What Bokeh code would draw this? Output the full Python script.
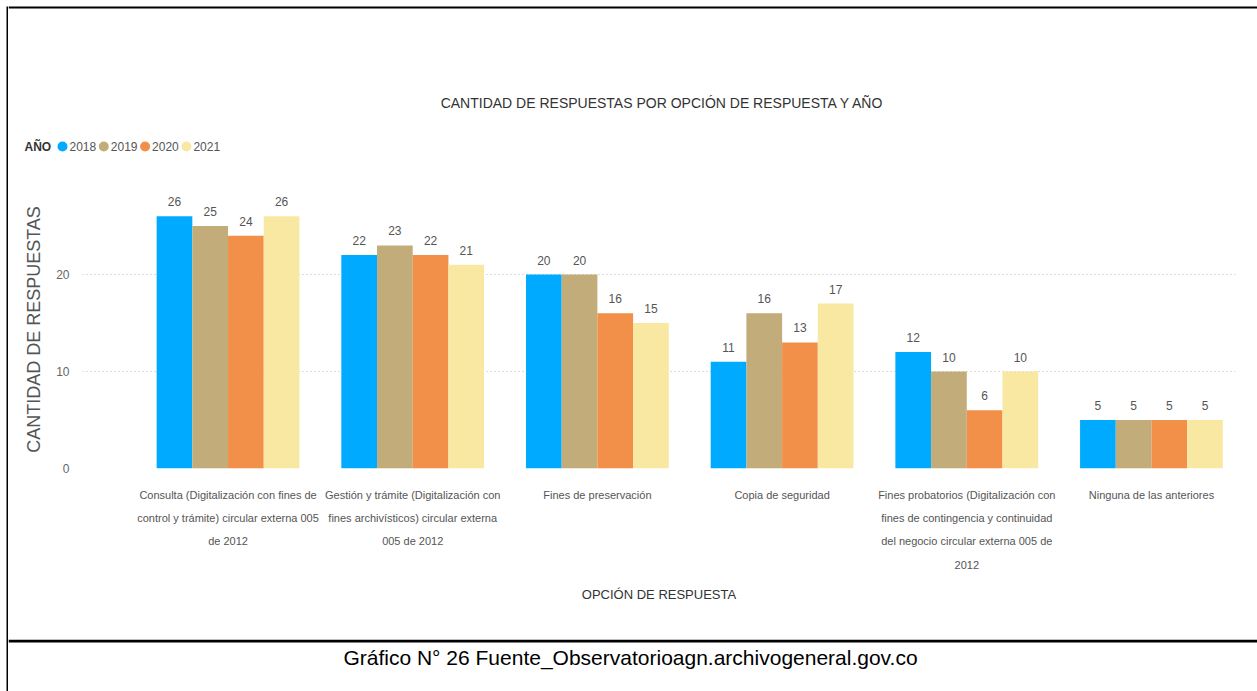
from bokeh.plotting import figure
from bokeh.layouts import row, column
from bokeh.models import ColumnDataSource, Range1d, FixedTicker
from bokeh.transform import dodge
from bokeh.core.properties import value
from bokeh.embed import file_html
from bokeh.resources import INLINE

# ---------------- data ----------------
categories = [
    "Consulta (Digitalización con fines de control y trámite) circular externa 005 de 2012",
    "Gestión y trámite (Digitalización con fines archivísticos) circular externa 005 de 2012",
    "Fines de preservación",
    "Copia de seguridad",
    "Fines probatorios (Digitalización con fines de contingencia y continuidad del negocio circular externa 005 de 2012",
    "Ninguna de las anteriores",
]
tick_labels = [
    "Consulta (Digitalización con fines de\ncontrol y trámite) circular externa 005\nde 2012",
    "Gestión y trámite (Digitalización con\nfines archivísticos) circular externa\n005 de 2012",
    "Fines de preservación",
    "Copia de seguridad",
    "Fines probatorios (Digitalización con\nfines de contingencia y continuidad\ndel negocio circular externa 005 de\n2012",
    "Ninguna de las anteriores",
]
years = ["2018", "2019", "2020", "2021"]
v2018 = [26, 22, 20, 11, 12, 5]
v2019 = [25, 23, 20, 16, 10, 5]
v2020 = [24, 22, 16, 13, 6, 5]
v2021 = [26, 21, 15, 17, 10, 5]
y_ticks = [0, 10, 20]

title_text = "CANTIDAD DE RESPUESTAS POR OPCIÓN DE RESPUESTA Y AÑO"
legend_title = "AÑO"
y_title = "CANTIDAD DE RESPUESTAS"
x_title = "OPCIÓN DE RESPUESTA"
caption_text = "Gráfico N° 26 Fuente_Observatorioagn.archivogeneral.gov.co"

series = [v2018, v2019, v2020, v2021]
colors = ["#00ABFF", "#C2AD7A", "#F28F48", "#F9E8A2"]

FONT = "Liberation Sans"
PW, PH = 1257, 691


def no_align(f):
    try:
        f.frame_align = False
    except Exception:
        pass


def canvas(width, height, x0, x1, y0, y1):
    """A figure whose frame covers its whole canvas, in page pixel coords."""
    f = figure(width=width, height=height, output_backend="svg", toolbar_location=None,
               x_range=Range1d(x0, x1), y_range=Range1d(y1, y0),
               x_axis_location=None, y_axis_location=None, tools="",
               min_border=0)
    f.grid.visible = False
    f.outline_line_color = None
    f.background_fill_color = "white"
    f.border_fill_color = "white"
    no_align(f)
    return f


# ---------- left border strip ----------
left = canvas(8, PH, 0, 8, 0, PH)
left.quad(left=[6], right=[8], top=[6], bottom=[PH], fill_color="black", line_color=None)

# ---------- header (title + legend) ----------
HX0, HY1 = 8, 170
head = canvas(PW - HX0, HY1, HX0, PW, 0, HY1)
head.quad(left=[HX0], right=[PW], top=[6], bottom=[8], fill_color="black", line_color=None)
head.text(x=[662], y=[102], text=[title_text], text_align="center", text_baseline="middle",
          text_font=value(FONT), text_font_size="14px", text_color="#333333")
head.text(x=[24], y=[146], text=[legend_title], text_align="left", text_baseline="middle",
          text_font=value(FONT), text_font_size="12px", text_font_style="bold",
          text_color="#333333")
leg_x = [62 + i * 41.3 for i in range(len(years))]
head.scatter(x=leg_x, y=[146] * len(years), marker="circle", size=10,
             fill_color=colors, line_color=None)
head.text(x=[x + 7 for x in leg_x], y=[146] * len(years), text=years,
          text_align="left", text_baseline="middle",
          text_font=value(FONT), text_font_size="12px", text_color="#555555")

# ---------- chart ----------
CY0, CY1 = 170, 639
p = figure(width=PW - HX0, height=CY1 - CY0, output_backend="svg", toolbar_location=None,
           x_range=Range1d(-0.788, 5.455), y_range=Range1d(0, 28.66),
           min_border_left=82 - HX0, min_border_right=PW - 1235,
           min_border_top=190 - CY0, min_border_bottom=CY1 - 468, tools="")
p.outline_line_color = None
p.background_fill_color = "white"
p.border_fill_color = "white"
no_align(p)

idx = list(range(len(categories)))
bw = 0.1933
offsets = [-1.5 * bw, -0.5 * bw, 0.5 * bw, 1.5 * bw]
for yr, vals, col, off in zip(years, series, colors, offsets):
    src = ColumnDataSource(dict(idx=idx, top=vals, lab=[str(v) for v in vals], cat=categories))
    p.vbar(x=dodge("idx", off), top="top", width=bw, source=src,
           fill_color=col, line_color=None)
    p.text(x=dodge("idx", off), y="top", text="lab", source=src,
           text_align="center", text_baseline="bottom", y_offset=-10,
           text_font=value(FONT), text_font_size="12px", text_color="#555555")

p.xgrid.visible = False
p.ygrid.grid_line_color = "#b8b8b8"
p.ygrid.grid_line_dash = "1 3"
p.ygrid.ticker = FixedTicker(ticks=y_ticks)

p.yaxis.ticker = FixedTicker(ticks=y_ticks)
p.yaxis.axis_line_color = None
p.yaxis.major_tick_line_color = None
p.yaxis.minor_tick_line_color = None
p.yaxis.major_label_text_font = FONT
p.yaxis.major_label_text_font_size = "12px"
p.yaxis.major_label_text_color = "#666666"
p.yaxis.major_label_standoff = 7
p.yaxis.axis_label = y_title
p.yaxis.axis_label_text_font = FONT
p.yaxis.axis_label_text_font_size = "18px"
p.yaxis.axis_label_text_font_style = "normal"
p.yaxis.axis_label_text_color = "#555555"
p.yaxis.axis_label_standoff = 9

p.xaxis.ticker = FixedTicker(ticks=idx)
p.xaxis.major_label_overrides = {i: t for i, t in zip(idx, tick_labels)}
p.xaxis.axis_line_color = None
p.xaxis.major_tick_line_color = None
p.xaxis.minor_tick_line_color = None
p.xaxis.major_label_text_font = FONT
p.xaxis.major_label_text_font_size = "11px"
p.xaxis.major_label_text_color = "#555555"
p.xaxis.major_label_text_line_height = 1.95
p.xaxis.major_label_standoff = 14
p.xaxis.axis_label = x_title
p.xaxis.axis_label_text_font = FONT
p.xaxis.axis_label_text_font_size = "13px"
p.xaxis.axis_label_text_font_style = "normal"
p.xaxis.axis_label_text_color = "#333333"
p.xaxis.axis_label_standoff = 13

# ---------- caption ----------
cap = canvas(PW - HX0, PH - CY1, HX0, PW, CY1, PH)
cap.quad(left=[HX0], right=[PW], top=[639], bottom=[642], fill_color="black", line_color=None)
cap.text(x=[630], y=[657], text=[caption_text], text_align="center", text_baseline="middle",
         text_font=value(FONT), text_font_size="21px", text_color="#000000")

layout = row(left, column(head, p, cap))
open("out.html", "w").write(file_html(layout, INLINE))
